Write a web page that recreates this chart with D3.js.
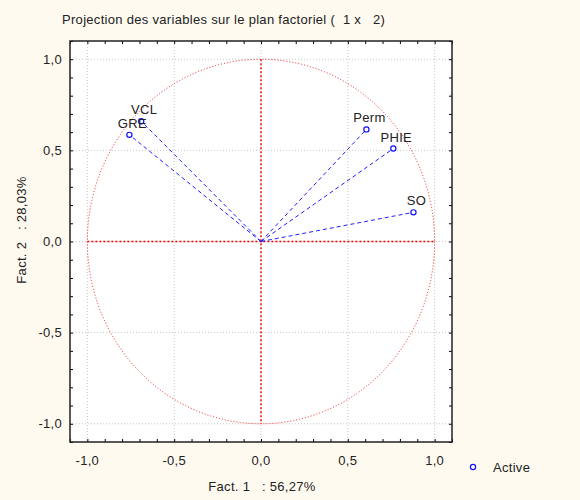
<!DOCTYPE html>
<html>
<head>
<meta charset="utf-8">
<script src="https://cdn.jsdelivr.net/npm/d3@7"></script>
<style>
  body { margin: 0; background: #fffaf0; }
  svg { display: block; font-family: "Liberation Sans", Arial, sans-serif; letter-spacing: 0.3px; }
</style>
</head>
<body>
<div id="chart"></div>
<script>
// variable coordinates on factors 1 and 2
const varNames = ["GRE", "VCL", "Perm", "PHIE", "SO"];
const fact1 = [-0.758, -0.69, 0.607, 0.762, 0.878];
const fact2 = [0.585, 0.66, 0.615, 0.51, 0.16];
const tickVals = [-1.0, -0.5, 0.0, 0.5, 1.0];

const W = 580, H = 500;
const FS = 13;
const fmt = d => d3.format(".1f")(d).replace(".", ",").replace("−", "-");

var svg = d3.select("#chart").append("svg")
  .attr("width", W).attr("height", H);

svg.append("rect").attr("width", W).attr("height", H).attr("fill", "#fffaf0");

var x = d3.scaleLinear().domain([-1.1, 1.1]).range([70, 452]);
var y = d3.scaleLinear().domain([-1.1, 1.1]).range([442, 41]);

// plot area
svg.append("rect")
  .attr("x", 70).attr("y", 41).attr("width", 382).attr("height", 401)
  .attr("fill", "#fff");

// grid
var grid = svg.append("g").attr("stroke", "#c8c8c8").attr("stroke-dasharray", "1,2");
grid.selectAll(".gx").data(tickVals).join("line")
  .attr("x1", d => x(d)).attr("x2", d => x(d)).attr("y1", 41).attr("y2", 442);
grid.selectAll(".gy").data(tickVals).join("line")
  .attr("y1", d => y(d)).attr("y2", d => y(d)).attr("x1", 70).attr("x2", 452);

// unit circle (ellipse since x/y scales differ)
svg.append("ellipse")
  .attr("cx", x(0)).attr("cy", y(0))
  .attr("rx", x(1) - x(0))
  .attr("ry", y(0) - y(1))
  .attr("fill", "none").attr("stroke", "#f02020").attr("stroke-width", 1)
  .attr("stroke-dasharray", "1,2");

// red axes through origin
var ax = svg.append("g").attr("stroke", "#f00000").attr("stroke-width", 1.4).attr("stroke-dasharray", "2,2");
ax.append("line").attr("x1", x(-1)).attr("x2", x(1)).attr("y1", y(0)).attr("y2", y(0));
ax.append("line").attr("x1", x(0)).attr("x2", x(0)).attr("y1", y(1)).attr("y2", y(-1));

// vectors
var pts = varNames.map((n, i) => ({ name: n, f1: fact1[i], f2: fact2[i] }));
svg.append("g").selectAll("line").data(pts).join("line")
  .attr("x1", x(0)).attr("y1", y(0))
  .attr("x2", d => x(d.f1)).attr("y2", d => y(d.f2))
  .attr("stroke", "#2020ff").attr("stroke-width", 1).attr("stroke-dasharray", "4,3");

svg.append("g").selectAll("circle").data(pts).join("circle")
  .attr("cx", d => x(d.f1)).attr("cy", d => y(d.f2)).attr("r", 2.6)
  .attr("fill", "#fff").attr("stroke", "#1010ff").attr("stroke-width", 1.2);

svg.append("g").selectAll("text").data(pts).join("text")
  .attr("x", d => x(d.f1) + 3).attr("y", d => y(d.f2) - 7)
  .attr("text-anchor", "middle").attr("font-size", FS).attr("fill", "#222")
  .text(d => d.name);

// axes with inward minor ticks
var minor = d3.range(-11, 12).map(d => d / 10);
svg.append("g").attr("transform", "translate(0,442)")
  .call(d3.axisTop(x).tickValues(minor).tickSize(3).tickFormat(""))
  .call(g => g.select(".domain").remove());
svg.append("g").attr("transform", "translate(0,41)")
  .call(d3.axisBottom(x).tickValues(minor).tickSize(3).tickFormat(""))
  .call(g => g.select(".domain").remove());
svg.append("g").attr("transform", "translate(70,0)")
  .call(d3.axisRight(y).tickValues(minor).tickSize(3).tickFormat(""))
  .call(g => g.select(".domain").remove());
svg.append("g").attr("transform", "translate(452,0)")
  .call(d3.axisLeft(y).tickValues(minor).tickSize(3).tickFormat(""))
  .call(g => g.select(".domain").remove());

// frame
svg.append("rect")
  .attr("x", 70).attr("y", 41).attr("width", 382).attr("height", 401)
  .attr("fill", "none").attr("stroke", "#222").attr("stroke-width", 1.5);

// tick labels
svg.append("g").selectAll("text").data(tickVals).join("text")
  .attr("x", d => x(d)).attr("y", 465)
  .attr("text-anchor", "middle").attr("font-size", FS).attr("fill", "#222")
  .text(fmt);
svg.append("g").selectAll("text").data(tickVals).join("text")
  .attr("x", 62).attr("y", d => y(d) + 4.5)
  .attr("text-anchor", "end").attr("font-size", FS).attr("fill", "#222")
  .text(fmt);

// titles
svg.append("text").attr("x", 62).attr("y", 24).attr("font-size", FS).attr("fill", "#222")
  .attr("xml:space", "preserve")
  .text("Projection des variables sur le plan factoriel (  1 x   2)");
svg.append("text").attr("x", 262).attr("y", 491).attr("text-anchor", "middle")
  .attr("font-size", FS).attr("fill", "#222").attr("xml:space", "preserve")
  .text("Fact. 1   : 56,27%");
svg.append("text").attr("transform", "translate(26,230) rotate(-90)").attr("text-anchor", "middle")
  .attr("font-size", FS).attr("fill", "#222").attr("xml:space", "preserve")
  .text("Fact. 2   : 28,03%");

// legend
svg.append("circle").attr("cx", 473).attr("cy", 467).attr("r", 2.6)
  .attr("fill", "#fff").attr("stroke", "#1010ff").attr("stroke-width", 1.2);
svg.append("text").attr("x", 493).attr("y", 472).attr("font-size", FS).attr("fill", "#222")
  .text("Active");
</script>
</body>
</html>
